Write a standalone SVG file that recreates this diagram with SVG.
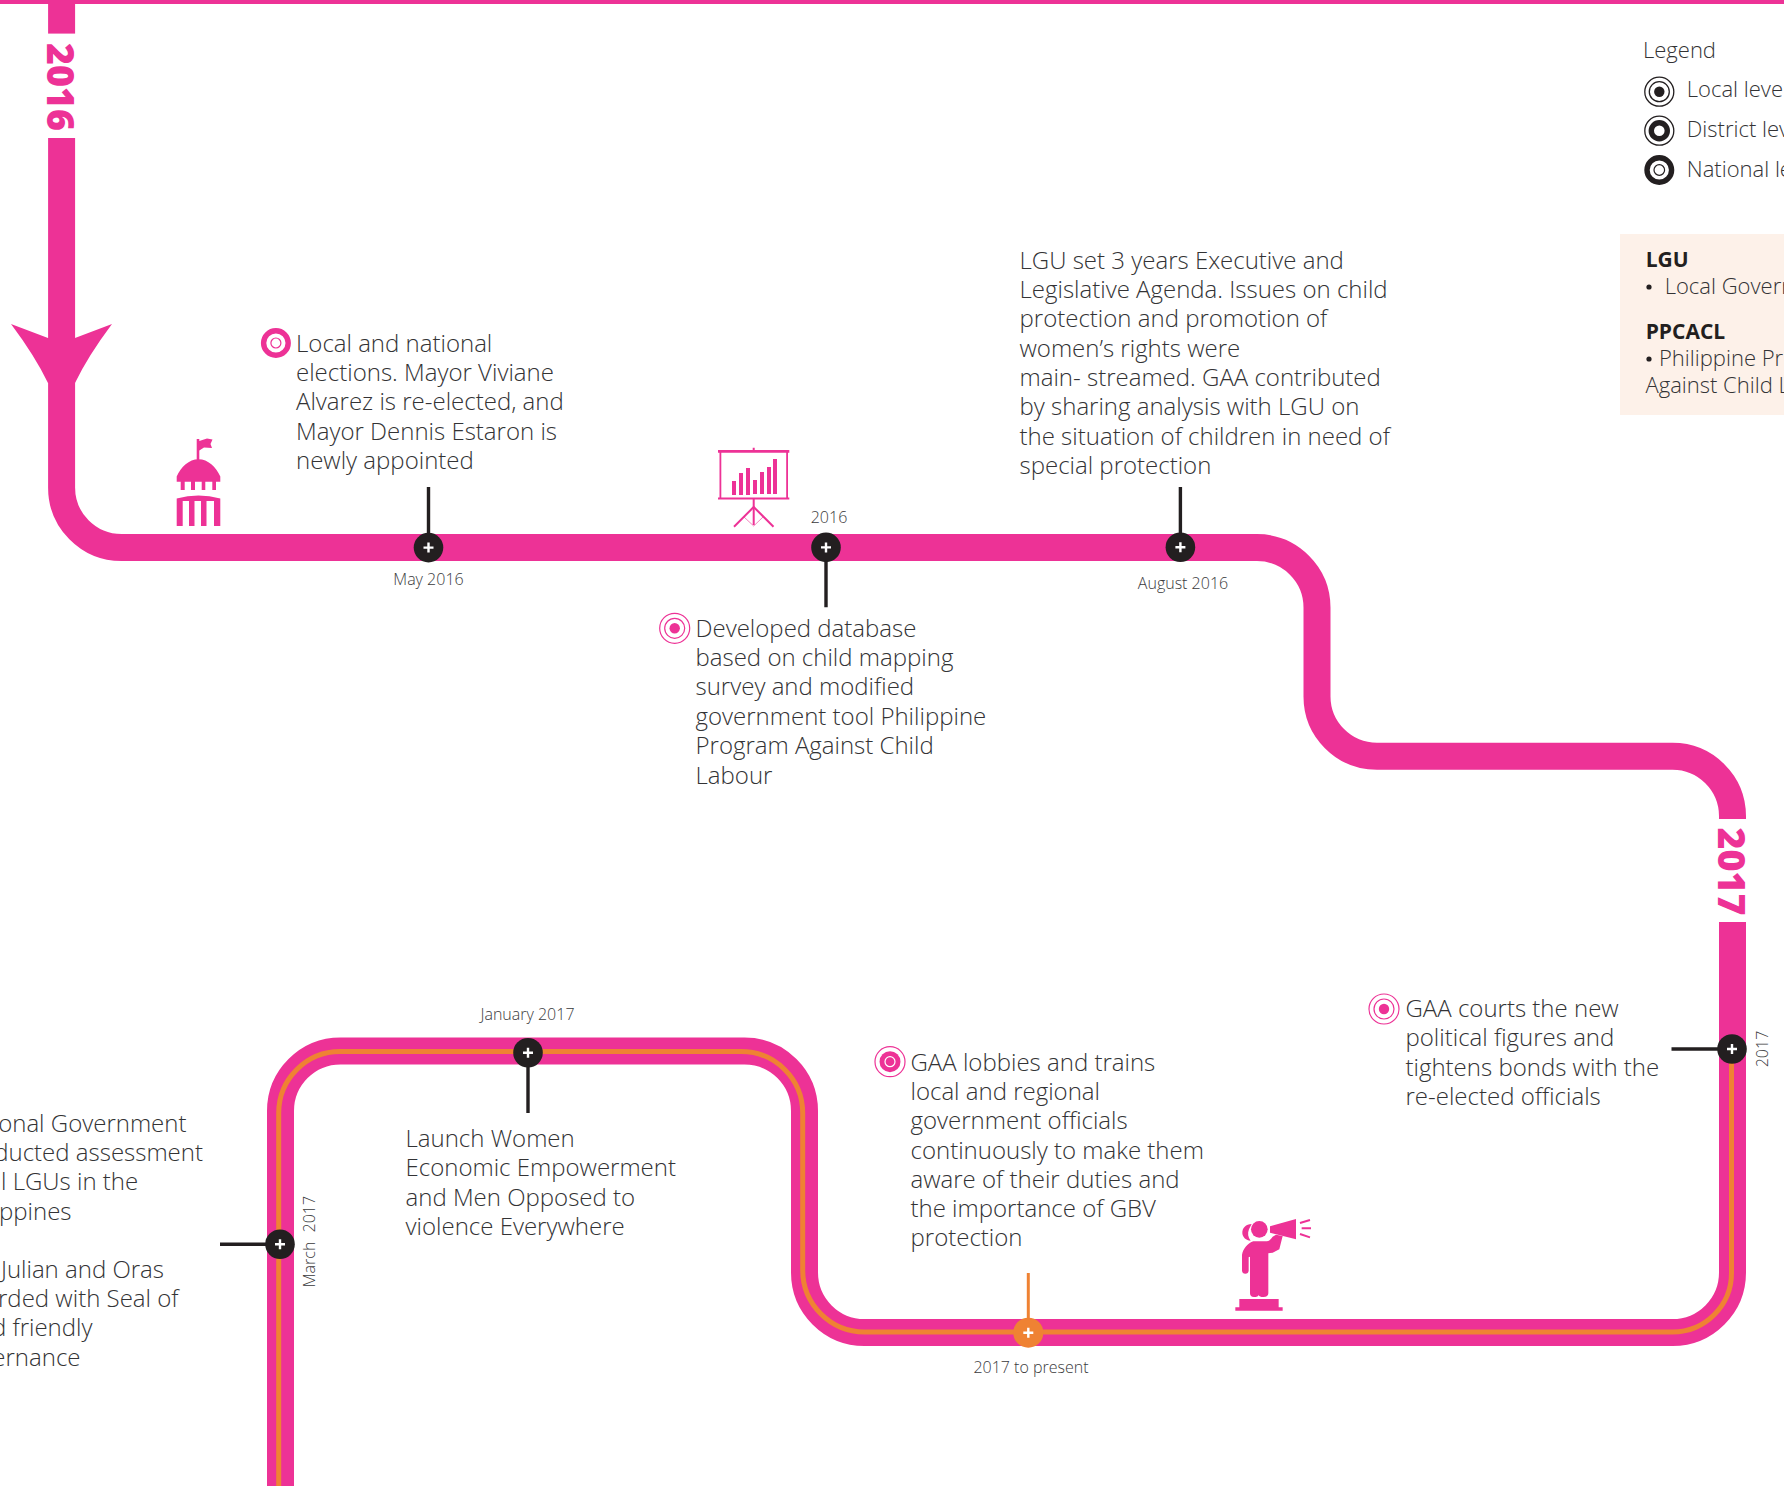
<svg xmlns="http://www.w3.org/2000/svg" width="1784" height="1486" viewBox="0 0 1784 1486">
<style>
text{font-family:"Open Sans","Noto Sans",sans-serif}
.b{font-size:24px;font-weight:300;fill:#333335}
.d{font-size:16px;font-weight:300;fill:#3a3a3c}
.y{font-size:37.6px;font-weight:800;fill:#ed3296}
.l{font-size:22px;font-weight:300;fill:#333335}
.h{font-size:21px;font-weight:700;fill:#231f20}
.p{fill:#ed3296}
.n{fill:#231f20}
.o{fill:#ef8233}
.plus{fill:none;stroke:#fff;stroke-width:2.4}
.ln{fill:none;stroke:#231f20;stroke-width:3.4}
.lo{fill:none;stroke:#ef8233;stroke-width:3}
.tr{fill:none;stroke:#ed3296;stroke-width:27}
.to{fill:none;stroke:#ef8233;stroke-width:5}
</style>
<defs>
<g id="plus"><path class="plus" d="M-5,0H5M0,-5V5"/></g>
</defs>
<rect width="1784" height="1486" fill="#fff"/>
<rect id="top-bar" width="1784" height="4" fill="#ed3296"/>
<g id="connectors">
<path id="track-main" class="tr" d="M61.6,0V487A60,60 0 0 0 121.6,547.6H1257A60,60 0 0 1 1317,607.6V696A60,60 0 0 0 1377,756.300H1672.5A60,60 0 0 1 1732.5,816V1272.5A60,60 0 0 1 1672.5,1332.5H864.5A60,60 0 0 1 804.5,1272.5V1111A60,60 0 0 0 744.5,1051H340.5A60,60 0 0 0 280.5,1111V1486"/>
<path id="track-orange" class="to" d="M1731.5,1049V1272.5A59,59 0 0 1 1672.5,1332H864.5A62,62 0 0 1 802.7,1270V1113A61.500,61.500 0 0 0 741,1051.500H340.500A61.500,61.500 0 0 0 278.700,1113V1486"/>
<path class="ln" d="M428.500,487V535M826,562V607.300M1180.400,487V535M528,1065V1113M220,1244.300H268M1671.500,1049H1720"/>
<path class="lo" d="M1028.300,1273V1320"/>
</g>
<g id="arrowhead"><path class="p" d="M11,324L48,338H75L112,324Q88,356 75,383H48Q35,356 11,324Z"/></g>
<g id="year-2016"><rect x="44" y="33.600" width="36" height="104.400" fill="#fff"/><text class="y" transform="translate(46.500,43) rotate(90)" x="0" y="0">2016</text></g>
<g id="year-2017"><rect x="1715" y="819" width="36" height="103" fill="#fff"/><text class="y" transform="translate(1718,827.500) rotate(90)" x="0" y="0">2017</text></g>

<g id="node-may-2016"><circle class="n" cx="428.500" cy="547.600" r="14.800"/><use href="#plus" x="428.500" y="547.600"/><text class="d" x="428.500" y="585" text-anchor="middle">May 2016</text></g>
<g id="node-2016"><circle class="n" cx="826" cy="547.400" r="14.800"/><use href="#plus" x="826" y="547.400"/><text class="d" x="829" y="523.300" text-anchor="middle">2016</text></g>
<g id="node-aug-2016"><circle class="n" cx="1180.400" cy="547.200" r="14.800"/><use href="#plus" x="1180.400" y="547.200"/><text class="d" x="1183" y="589.300" text-anchor="middle">August 2016</text></g>
<g id="node-2017"><circle class="n" cx="1732" cy="1049" r="14.800"/><use href="#plus" x="1732" y="1049"/><text class="d" transform="translate(1768,1049) rotate(-90)" text-anchor="middle">2017</text></g>
<g id="node-present"><circle class="o" cx="1028.300" cy="1332.700" r="15"/><use href="#plus" x="1028.300" y="1332.700"/><text class="d" x="1031" y="1373" text-anchor="middle">2017 to present</text></g>
<g id="node-jan-2017"><circle class="n" cx="528" cy="1052.700" r="14.800"/><use href="#plus" x="528" y="1052.700"/><text class="d" x="527.500" y="1020.400" text-anchor="middle">January 2017</text></g>
<g id="node-mar-2017"><circle class="n" cx="280" cy="1244.300" r="14.800"/><use href="#plus" x="280" y="1244.300"/><text class="d" transform="translate(314.500,1241.600) rotate(-90)" text-anchor="middle">March <tspan dx="5">2017</tspan></text></g>

<g id="text-elections">
<circle cx="275.900" cy="343" r="12.300" fill="none" stroke="#ed3296" stroke-width="5.400"/><circle cx="275.900" cy="343" r="5" fill="none" stroke="#ed3296" stroke-width="1.200"/>
<text class="b"><tspan x="296" y="351.800">Local and national</tspan><tspan x="296" y="381">elections. Mayor Viviane</tspan><tspan x="296" y="410.300">Alvarez is re-elected, and</tspan><tspan x="296" y="439.600">Mayor Dennis Estaron is</tspan><tspan x="296" y="468.800">newly appointed</tspan></text></g>

<g id="text-database">
<circle cx="674.700" cy="628.300" r="15" fill="none" stroke="#ed3296" stroke-width="1.200"/><circle cx="674.700" cy="628.300" r="10" fill="none" stroke="#ed3296" stroke-width="1.200"/><circle class="p" cx="674.700" cy="628.300" r="5.200"/>
<text class="b"><tspan x="695.500" y="636.600">Developed database</tspan><tspan x="695.500" y="665.900">based on child mapping</tspan><tspan x="695.500" y="695.300">survey and modified</tspan><tspan x="695.500" y="724.600">government tool Philippine</tspan><tspan x="695.500" y="754">Program Against Child</tspan><tspan x="695.500" y="783.800">Labour</tspan></text></g>

<g id="text-agenda">
<text class="b"><tspan x="1019.500" y="268.700">LGU set 3 years Executive and</tspan><tspan x="1019.500" y="298">Legislative Agenda. Issues on child</tspan><tspan x="1019.500" y="327.300">protection and promotion of</tspan><tspan x="1019.500" y="356.800">women’s rights were</tspan><tspan x="1019.500" y="385.900">main- streamed. GAA contributed</tspan><tspan x="1019.500" y="415.200">by sharing analysis with LGU on</tspan><tspan x="1019.500" y="444.500">the situation of children in need of</tspan><tspan x="1019.500" y="473.800">special protection</tspan></text></g>

<g id="text-courts">
<circle cx="1384" cy="1009" r="15" fill="none" stroke="#ed3296" stroke-width="1.200"/><circle cx="1384" cy="1009" r="10" fill="none" stroke="#ed3296" stroke-width="1.200"/><circle class="p" cx="1384" cy="1009" r="5.200"/>
<text class="b"><tspan x="1405.500" y="1017">GAA courts the new</tspan><tspan x="1405.500" y="1046.400">political figures and</tspan><tspan x="1405.500" y="1075.800">tightens bonds with the</tspan><tspan x="1405.500" y="1105.400">re-elected officials</tspan></text></g>

<g id="text-lobbies">
<circle cx="890" cy="1061.700" r="15" fill="none" stroke="#ed3296" stroke-width="1.200"/><circle class="p" cx="890" cy="1061.700" r="10.500"/><circle cx="890" cy="1061.700" r="5" fill="none" stroke="#fff" stroke-width="1.200"/>
<text class="b"><tspan x="910.500" y="1070.600">GAA lobbies and trains</tspan><tspan x="910.500" y="1099.900">local and regional</tspan><tspan x="910.500" y="1129.200">government officials</tspan><tspan x="910.500" y="1158.500">continuously to make them</tspan><tspan x="910.500" y="1187.800">aware of their duties and</tspan><tspan x="910.500" y="1217.100">the importance of GBV</tspan><tspan x="910.500" y="1246.400">protection</tspan></text></g>

<g id="text-launch">
<text class="b"><tspan x="405.500" y="1146.800">Launch Women</tspan><tspan x="405.500" y="1176">Economic Empowerment</tspan><tspan x="405.500" y="1205.600">and Men Opposed to</tspan><tspan x="405.500" y="1235">violence Everywhere</tspan></text></g>

<g id="text-national" text-anchor="end">
<text class="b"><tspan x="186.500" y="1131.500">onal Government</tspan><tspan x="203" y="1160.800">ducted assessment</tspan><tspan x="138.200" y="1190.100">l LGUs in the</tspan><tspan x="71.500" y="1219.500">ppines</tspan><tspan x="164" y="1277.500">Julian and Oras</tspan><tspan x="178.500" y="1306.800">rded with Seal of</tspan><tspan x="92.500" y="1336">d friendly</tspan><tspan x="80.500" y="1365.500">ernance</tspan></text></g>

<g id="icon-capitol" class="p">
<path d="M196.700,439H199.300V441L207,438.500L212.500,439.500L210.500,444L212,448L204,447.500L199.300,450.500V460H196.700Z"/>
<path d="M176.700,481.700V476.500C181,467 189,459.300 198.500,459.300C208,459.300 216,467 220.300,476.500V481.700H216V490H212.300V481.700H205.300V490H201.700V481.700H195V490H191V481.700H184.700V490H180.700V481.700Z"/>
<path d="M176.700,498.500Q198.500,492.500 220.300,498.500V526H214V501H206.500V526H201V501H194.500V526H189V501H182.700V526H176.700Z"/>
</g>

<g id="icon-chart">
<path class="p" d="M718,450H752.700V447.700H754.700V450H789.300V452.700H788V497.500H789.300V499.500H754.700V525H752.700V499.500H718V497.500H719.500V452.700H718ZM721.300,452.700V497.500H786.200V452.700Z"/>
<path class="p" d="M732,481H736V495H732ZM739,473H743V495H739ZM746,468H750V495H746ZM753,480H757V494H753ZM760,472H764V494H760ZM767,467H771V494H767ZM773,459H777V494H773Z"/>
<path d="M734,526.700L753.700,507L773.500,526.700" fill="none" stroke="#ed3296" stroke-width="2"/>
<path d="M744,517L753.700,526M763,517L753.700,526" fill="none" stroke="#ed3296" stroke-width="0.600"/>
</g>

<g id="icon-megaphone" class="p" transform="translate(1220,1200) scale(0.3333)">
<circle cx="118" cy="88" r="25"/>
<path d="M95,72C78,72 66,84 67,100C68,112 78,122 92,122C84,112 82,100 87,88Z"/>
<path d="M100,124H140C148,124 152,118 158,110L168,104L188,108L178,148L158,158L145,160V280Q145,291 130,291Q118,291 116,285Q114,291 102,291Q90,291 90,280V170L86,172V212Q85,221 76,221Q67,221 66,212V165C68,148 84,128 100,124Z"/>
<path d="M150,79L228,57V118L150,98Z"/>
<path d="M240,69L270,60M245,85H273M240,102L270,112" fill="none" stroke="#ed3296" stroke-width="6"/>
<path d="M58,297H176V322H188V332H46V322H58Z"/>
</g>

<g id="legend">
<text class="l" x="1643" y="58.300">Legend</text>
<circle class="n" cx="1659.300" cy="91.700" r="5.200"/><circle cx="1659.300" cy="91.700" r="10" fill="none" stroke="#231f20" stroke-width="1.300"/><circle cx="1659.300" cy="91.700" r="14.500" fill="none" stroke="#231f20" stroke-width="1.300"/>
<text class="l" x="1686.800" y="97.300">Local level</text>
<circle cx="1659.300" cy="130.700" r="14.500" fill="none" stroke="#231f20" stroke-width="1.300"/><circle cx="1659.300" cy="130.700" r="8" fill="none" stroke="#231f20" stroke-width="5.400"/>
<text class="l" x="1686.800" y="136.700">District lev</text>
<circle cx="1659.300" cy="170" r="12.300" fill="none" stroke="#231f20" stroke-width="5.400"/><circle cx="1659.300" cy="170" r="5.300" fill="none" stroke="#231f20" stroke-width="1.200"/>
<text class="l" x="1686.800" y="176.700">National le</text>
</g>

<g id="glossary">
<rect x="1620" y="234" width="164" height="181" fill="#fdf1e9"/>
<text class="h" x="1645.700" y="266.700">LGU</text>
<circle class="n" cx="1649" cy="287" r="2.600"/><text class="l" x="1664.700" y="294">Local Govern</text>
<text class="h" x="1645.700" y="338.700">PPCACL</text>
<circle class="n" cx="1649" cy="359" r="2.600"/><text class="l" x="1659" y="366">Philippine Pr</text>
<text class="l" x="1645.500" y="392.700">Against Child L</text>
</g>
</svg>
